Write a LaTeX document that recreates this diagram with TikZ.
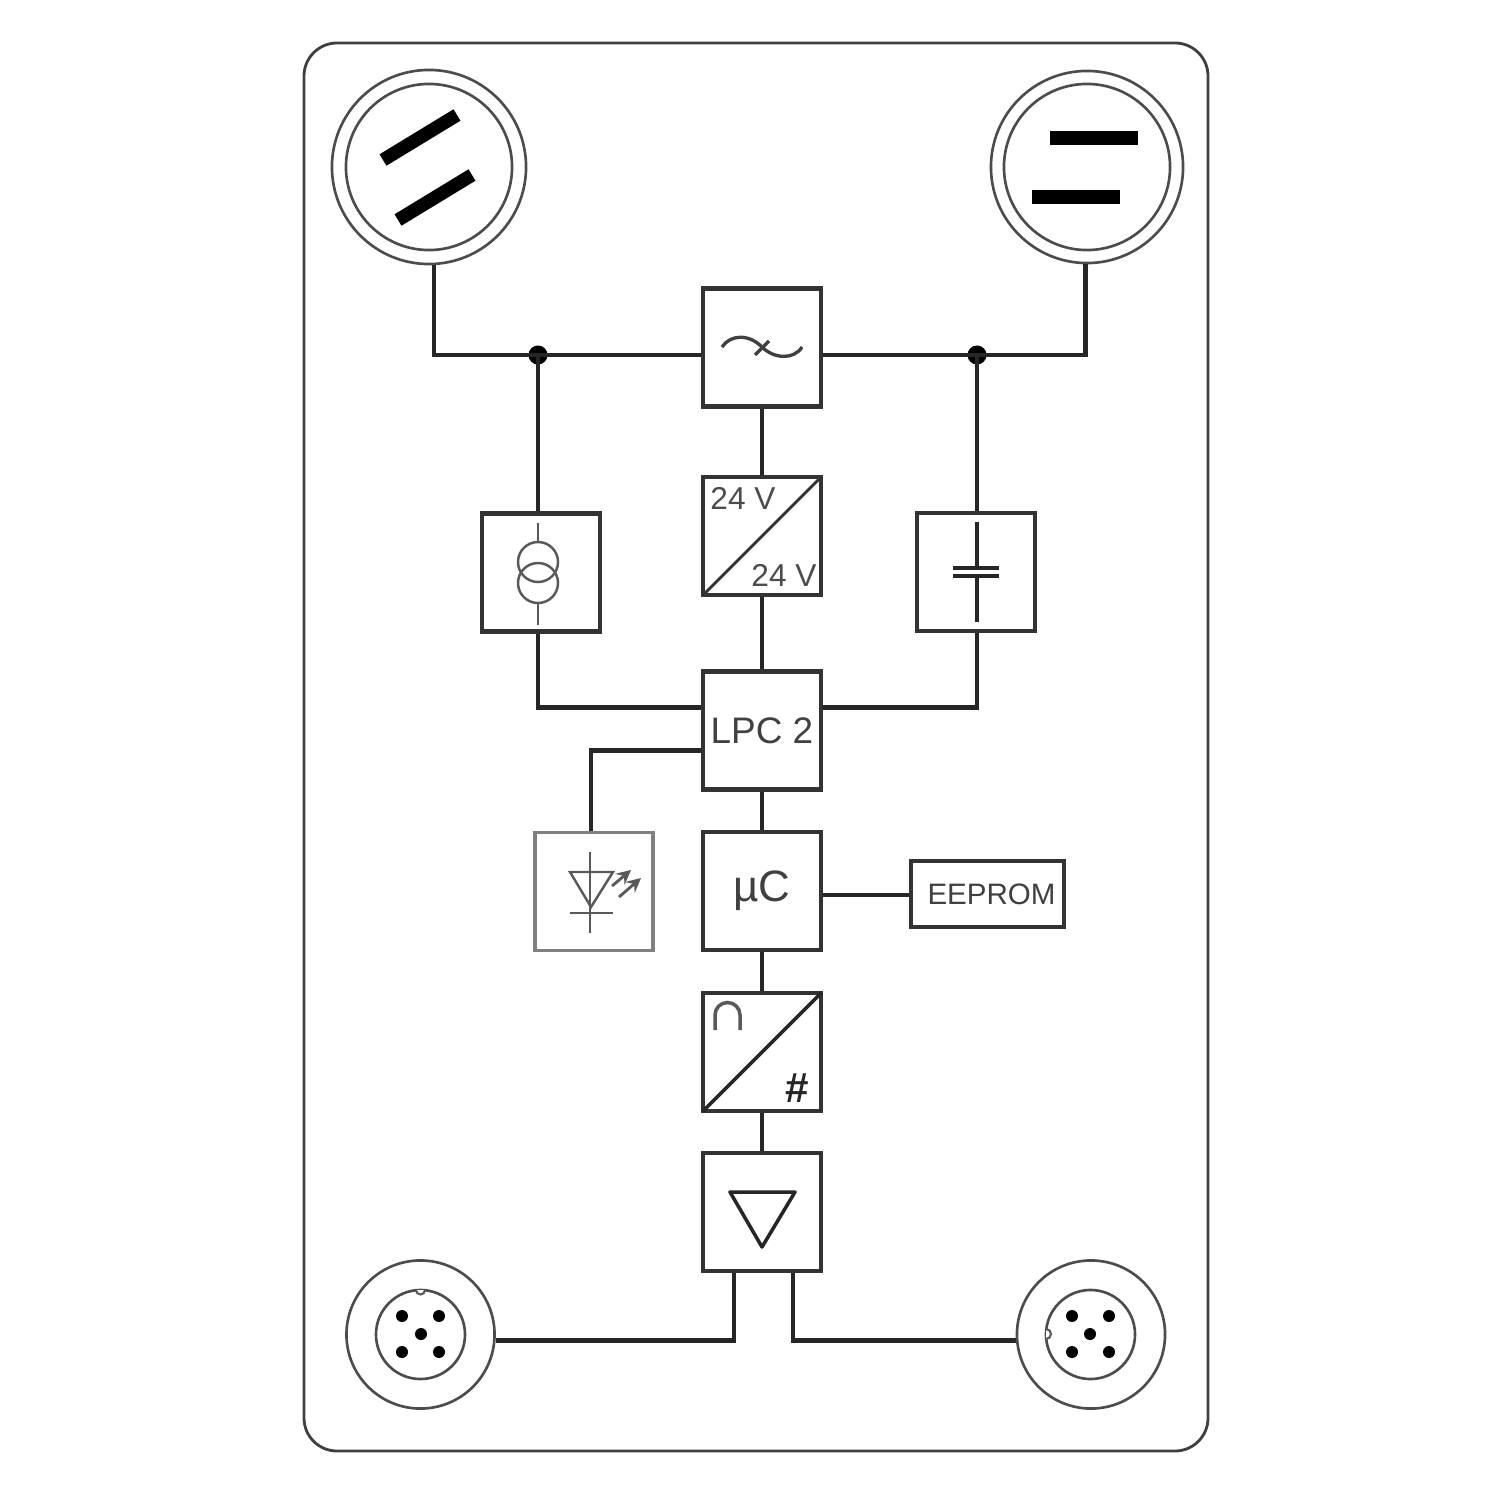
\documentclass[tikz,border=0pt]{standalone}
\usepackage{fontspec}
\setmainfont{Liberation Sans}
\usetikzlibrary{calc}

\begin{document}
\begin{tikzpicture}[x=0.01cm,y=-0.01cm]
\tikzstyle{block} = [rectangle, draw=black!80, line width=1.25pt, fill=white,
minimum width=1.18cm, minimum height=1.18cm, inner sep=0pt, font=\fontsize{10.5}{12}\selectfont, text=black!75]
\tikzstyle{block_led} = [block, draw=black!50, line width=0.9pt]
\tikzstyle{block_rom} = [block, minimum width=1.53cm, minimum height=0.66cm, font=\fontsize{8.4}{10}\selectfont]
\tikzstyle{plug} = [circle, draw=black!70, line width=0.75pt, inner sep=0pt]
\tikzstyle{pin} = [circle, fill=black, inner sep=0pt, minimum size=0.12cm]
\tikzstyle{dot} = [circle, fill=black, inner sep=0pt, minimum size=0.19cm]
\tikzstyle{line} = [draw=black!85, line width=1.25pt]
\tikzstyle{blade} = [draw=black, line width=3.8pt]
\tikzstyle{sym} = [draw=black!65, line width=0.7pt]
\tikzstyle{volt} = [inner sep=0pt, font=\fontsize{9}{10}\selectfont, text=black!70]

\useasboundingbox (0,0) rectangle (1500,1500);
\draw [draw=black!75, line width=0.8pt, rounded corners=0.33cm] (304,43) rectangle (1208,1451);

% mains plugs
\node [plug, minimum size=1.94cm] (plug_l) at (429,167) {};
\node [plug, minimum size=1.66cm] (plug_l_in) at (429,167) {};
\node [plug, minimum size=1.92cm] (plug_r) at (1087,167) {};
\node [plug, minimum size=1.66cm] (plug_r_in) at (1087,167) {};
\draw [blade] (383,160) -- (457,115);
\draw [blade] (398,220) -- (472,175);
\draw [blade] (1050,138) -- (1138,138);
\draw [blade] (1032,197) -- (1120,197);

% middle column
\node [block] (filter) at (762,347.5) {};
\node [block] (conv) at (762,536) {};
\node [block] (lpc) at (762,730.5) {LPC 2};
\node [block] (uc) at (762,891) {\fontsize{12.5}{14}\selectfont µC};
\node [block] (adc) at (762,1052) {};
\node [block] (driver) at (762,1212) {};
% side blocks
\node [block] (trafo) at (541,572.5) {};
\node [block] (cap) at (976,572) {};
\node [block_led] (led) at (594,891.5) {};
\node [block_rom] (rom) at (987.5,894) {\hspace{2.3pt}\raisebox{-0.85pt}{EEPROM}};
% junctions
\node [dot] (dot_l) at (538,355) {};
\node [dot] (dot_r) at (977,355) {};

% bus plugs
\node [plug, minimum size=1.48cm] (bus_l) at (420.5,1334.5) {};
\node [plug, minimum size=0.89cm] (bus_l_in) at (420.5,1334.5) {};
\node [plug, minimum size=1.48cm] (bus_r) at (1091,1334.5) {};
\node [plug, minimum size=0.89cm] (bus_r_in) at (1090.5,1334.5) {};
\foreach \x/\y [count=\i] in {402/1316,439/1316,421/1334,402/1352,439/1352}
  \node [pin] (pin_l\i) at (\x,\y) {};
\foreach \x/\y [count=\i] in {1072/1316,1109/1316,1090/1334,1072/1352,1109/1352}
  \node [pin] (pin_r\i) at (\x,\y) {};
% notches
\draw [fill=white, draw=black!65, line width=0.6pt] (416,1290) arc (180:0:4.5);
\draw [fill=white, draw=black!65, line width=0.6pt] (1046,1339) arc (90:-90:5);

% wires
\tikzstyle{every path}=[line]
\path (plug_l.-87) |- (dot_l.center) -- (dot_l -| filter.west);
\path (plug_r.-91) |- (dot_r.center) -- (dot_r -| filter.east);
\path (dot_l.center) -- (dot_l |- trafo.north);
\path (dot_r.center) -- (dot_r |- cap.north);
\path (filter) -- (conv);
\path (conv) -- (lpc);
\path (lpc) -- (uc);
\path (uc) -- (adc);
\path (adc) -- (driver);
\path ($(rom.west)+(0,1)$) -- ($(rom.west -| uc.east)+(0,1)$);
\path ($(trafo.south)+(-3,0)$) |- ($(lpc.west)+(0,-23)$);
\path ($(cap.south)+(1,0)$) |- ($(lpc.east)+(0,-23)$);
\path ($(lpc.west)+(0,20)$) -| ($(led.north)+(-3,0)$);
\path ($(driver.south)+(-28,0)$) |- ($(bus_l.east)+(0,6)$);
\path ($(driver.south)+(31,0)$) |- ($(bus_r.west)+(0,6)$);
\tikzstyle{every path}=[]

% symbols
\draw [sym, draw=black!75, line width=0.95pt] (722,347) .. controls (730,335) and (748,333) .. (762,347) .. controls (774,359) and (794,360) .. (802,347);
\draw [sym, draw=black!75, line width=0.95pt] (755,355) -- (769,341);
\draw [sym] (538,523) -- (538,542);
\draw [sym] (538,603) -- (538,625);
\draw [sym] (538,562) circle (0.2cm);
\draw [sym] (538,583) circle (0.2cm);
\draw [line, line width=1.1pt] (977,522) -- (977,568);
\draw [line, line width=1.1pt] (977,575) -- (977,622);
\draw [line, line width=1.1pt] (953,568) -- (999,568);
\draw [line, line width=1.1pt] (953,576) -- (999,576);
\draw [draw=black!80, line width=0.8pt, shorten <=0.6pt, shorten >=0.6pt] (conv.south west) -- (conv.north east);
\node [volt] (volt_in) at (743,498) {24 V};
\node [volt] (volt_out) at (784,575) {24 V};
\draw [sym] (590,852) -- (590,933);
\draw [sym] (570,872) -- (613,872) -- (591,907) -- cycle;
\draw [sym] (570,913) -- (613,913);
\draw [sym, line width=0.8pt, -stealth] (612,886) -- (631,870);
\draw [sym, line width=0.8pt, -stealth] (619,897) -- (641,878);
\draw [draw=black!85, line width=1.0pt, shorten <=0.6pt, shorten >=0.6pt] (adc.south west) -- (adc.north east);
\draw [sym, line width=1pt] (715,1030) -- (715,1015) arc (180:360:12.5) -- (740,1030);
\node [inner sep=0pt, font=\fontsize{12}{13}\selectfont\bfseries, text=black!85] (hash) at (797,1088) {\#};
\draw [draw=black!85, line width=1pt, line join=round] (730,1192) -- (795,1192) -- (762,1247) -- cycle;
\end{tikzpicture}
\end{document}
